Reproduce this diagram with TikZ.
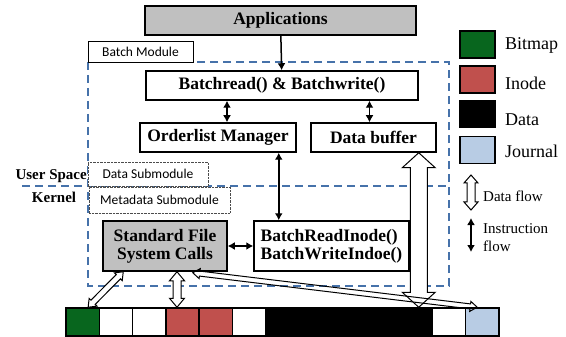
\documentclass[tikz,border=0pt]{standalone}
\usepackage{fontspec}
\setmainfont{Liberation Serif}
\setsansfont{Carlito}
\usetikzlibrary{arrows.meta,calc}
\definecolor{bmgreen}{RGB}{8,102,30}
\definecolor{inodered}{RGB}{192,80,77}
\definecolor{jrnlblue}{RGB}{184,204,228}
\definecolor{boxgray}{RGB}{192,192,192}
\definecolor{dashblue}{RGB}{70,114,170}

%% hollow two-headed arrow: [opts]{from}{to}{shaft half}{head half}{head length}
\newcommand{\flowarrow}[6][]{%
  \path (#2) coordinate (fa) (#3) coordinate (fb);
  \path ($(fa)!#6!(fb)$) coordinate (fa1) ($(fb)!#6!(fa)$) coordinate (fb1);
  \draw[line width=1pt, fill=white, #1] (fa) -- ($(fa1)!#5!90:(fb)$) -- ($(fa1)!#4!90:(fb)$)
    -- ($(fb1)!#4!90:(fb)$) -- ($(fb1)!#5!90:(fb)$) -- (fb)
    -- ($(fb1)!#5!-90:(fb)$) -- ($(fb1)!#4!-90:(fb)$)
    -- ($(fa1)!#4!-90:(fb)$) -- ($(fa1)!#5!-90:(fb)$) -- cycle;}

\begin{document}
\begin{tikzpicture}[x=1pt,y=-1pt,
  box/.style={draw, line width=1.5pt, inner sep=0pt, align=center,
    font=\bfseries\fontsize{17.5}{18}\selectfont},
  graybox/.style={box, fill=boxgray},
  tag/.style={draw, fill=white, inner sep=0pt, font=\sffamily\fontsize{13.5}{14}\selectfont},
  subtag/.style={tag, densely dotted, draw=black!70},
  cell/.style={draw, line width=1.5pt, minimum width=33.3pt, minimum height=28pt, inner sep=0pt},
  key/.style={draw, line width=1.5pt, minimum width=35pt, minimum height=27pt, inner sep=0pt},
  keylabel/.style={anchor=west, inner sep=0pt, align=left, font=\fontsize{15}{18}\selectfont},
  instr/.style={{Latex[length=7pt,width=8pt]}-{Latex[length=7pt,width=8pt]}, line width=1.5pt},
  region/.style={dashblue, line width=1.5pt, dash pattern=on 8pt off 5pt}]
  \useasboundingbox (0,0) rectangle (566,337);

  %% batch module region and user/kernel line
  \draw[region] (88,62) rectangle (449,286);
  \draw[region] (22,186) -- (449,186);

  %% boxes
  \node[graybox, minimum width=271pt, minimum height=29pt] (app) at (280.5,20.5) {Applications};
  \node[tag, minimum width=105pt, minimum height=21pt] (bmod) at (140.5,51.5) {Batch Module};
  \node[box, minimum width=272pt, minimum height=29pt] (brw) at (282,85.5) {Batchread() \& Batchwrite()};
  \node[box, minimum width=156pt, minimum height=29pt] (olm) at (218,137.5) {Orderlist Manager};
  \node[box, minimum width=125pt, minimum height=29pt] (dbuf) at (373.5,137.5) {Data buffer};
  \node[subtag, minimum width=120pt, minimum height=24pt] (dsub) at (148,174) {Data Submodule};
  \node[subtag, minimum width=141pt, minimum height=26pt] (msub) at (159.5,200) {Metadata Submodule};
  \node[graybox, minimum width=124pt, minimum height=50pt] (std) at (165,246)
    {Standard File\\System Calls};
  \node[box, align=left, minimum width=155pt, minimum height=50pt] (bri) at (331.5,246)
    {BatchReadInode()\\BatchWriteIndoe()};

  \node[anchor=east, inner sep=0pt, font=\bfseries\fontsize{15}{16}\selectfont] (uspace) at (87,176) {User Space};
  \node[inner sep=0pt, font=\bfseries\fontsize{15}{16}\selectfont] (kernel) at (54,197) {Kernel};

  %% storage blocks
  \foreach \i/\c in {1/bmgreen,2/white,3/white,4/inodered,5/inodered,6/white,7/black,
                     8/black,9/black,10/black,11/black,12/white,13/jrnlblue}
    \node[cell, fill=\c] (c\i) at ({66+33.3*(\i-0.5)},322) {};

  %% instruction flow
  \draw[line width=1.5pt, -{Latex[length=7pt,width=8pt]}] (app) -- (brw);
  \path (olm.north) ++(9,0) coordinate (olmtop);
  \draw[instr] (olmtop) -- (olmtop |- brw.south);
  \path (dbuf.north) ++(-4,0) coordinate (dbuftop);
  \draw[instr] (dbuftop) -- (dbuftop |- brw.south);
  \path (olm.south east) ++(-18,0) coordinate (olmbot);
  \draw[instr] (olmbot) -- (olmbot |- bri.north);
  \draw[instr] (std) -- (bri);

  %% data flow
  \path (dbuf.south east) ++(-18,0) coordinate (dbufbot);
  \flowarrow{dbufbot}{dbufbot |- c11.north}{8.5pt}{16.5pt}{15pt}
  \path (std.south) ++(12,0) coordinate (stdbot);
  \flowarrow{stdbot}{stdbot |- c4.north}{4pt}{7.5pt}{9pt}
  \path (std.south west) ++(21,0) coordinate (stdleft);
  \path (c1.north) ++(5.5,0) coordinate (bmtop);
  \flowarrow{stdleft}{bmtop}{3pt}{5.5pt}{7pt}
  \path (std.south east) ++(-35,1) coordinate (stdright);
  \path (c13.north) ++(-5,0) coordinate (jtop);
  \flowarrow[fill=none]{stdright}{jtop}{2.5pt}{5pt}{7pt}

  %% legend
  \foreach \n/\c/\y/\ly/\t in {bm/bmgreen/44.5/45/Bitmap, in/inodered/79.5/83/Inode,
                               da/black/114/120/Data, jr/jrnlblue/150/151/Journal} {
    \node[key, fill=\c] (k\n) at (477.5,\y) {};
    \node[keylabel, font=\fontsize{18}{20}\selectfont] (l\n) at (505,\ly) {\t};
  }
  \coordinate (df1) at (471,175);
  \coordinate (df2) at (471,210);
  \flowarrow{df1}{df2}{4pt}{7pt}{8pt}
  \node[keylabel] (ldf) at (483,196) {Data flow};
  \coordinate (if1) at (471,218);
  \coordinate (if2) at (471,252);
  \draw[instr] (if1) -- (if2);
  \node[keylabel] (lif) at (483,238) {Instruction\\flow};
\end{tikzpicture}
\end{document}
